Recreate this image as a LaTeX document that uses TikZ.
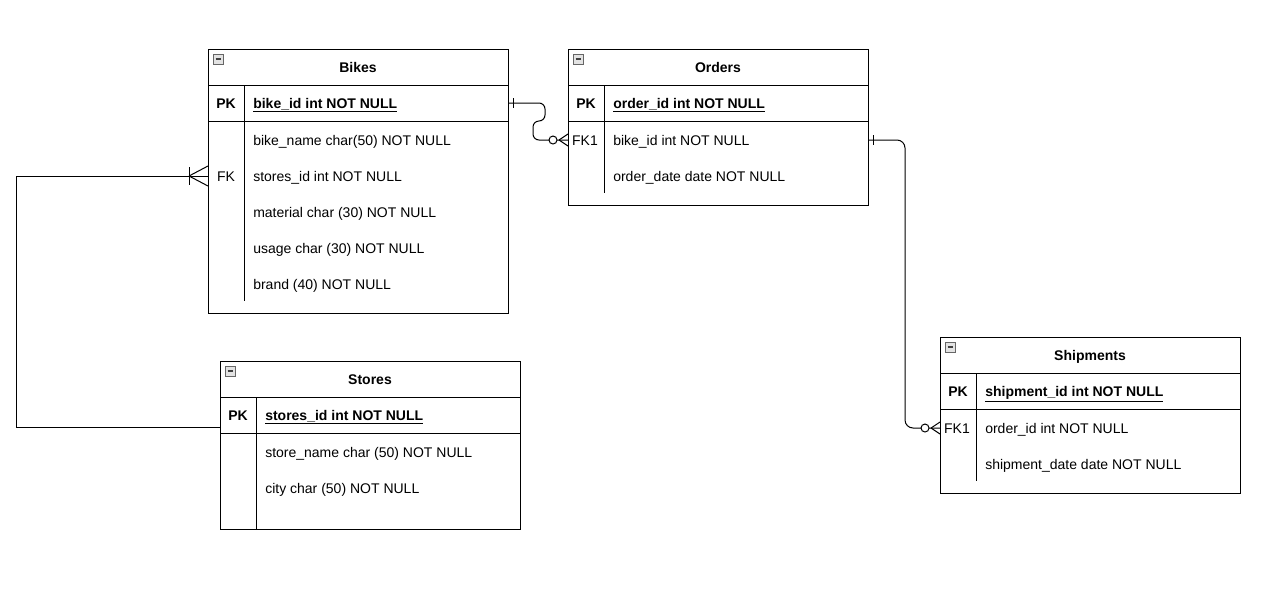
\documentclass[tikz,border=0pt]{standalone}
\usepackage{fontspec}
\setmainfont{Liberation Sans}
\usetikzlibrary{calc}
\newcommand\minicon[2]{%
  \draw[gray!80!black, fill=gray!22, line width=0.5pt] (#1,#2) rectangle ++(10,10);
  \draw[black!75, line width=1.1pt] ($(#1,#2)+(2.5,5)$) -- ++(5,0);}
\begin{document}
\begin{tikzpicture}[x=0.75pt,y=-0.75pt,
  line/.style={draw=black, line width=0.75pt},
  tbl/.style={draw=black, line width=0.75pt, minimum width=225pt, inner sep=0pt, anchor=north west},
  txt/.style={inner sep=0pt, text height=9.5pt, text depth=2pt},
  ttl/.style={txt, font=\fontsize{10.5pt}{12pt}\selectfont\bfseries},
  keyb/.style={txt, font=\fontsize{10.5pt}{12pt}\selectfont\bfseries},
  keyn/.style={txt, font=\fontsize{10.5pt}{12pt}\selectfont},
  fld/.style={txt, font=\fontsize{10.5pt}{12pt}\selectfont, anchor=west},
  pkf/.style={txt, font=\fontsize{10.5pt}{12pt}\selectfont\bfseries, anchor=west},
  conn/.style={draw=black, line width=0.75pt},
]
\fill[white] (0,0) rectangle (1274,601);
\useasboundingbox (0,0) rectangle (1274,601);

% ---------- Bikes ----------
\node[tbl, minimum height=198pt] (bikes) at (208,49) {};
\minicon{213}{54}
\draw[line] (208,85) -- (508,85);
\draw[line] (208,121) -- (508,121);
\draw[line] (244,85) -- (244,301);
\node[ttl] (bT) at (358,67) {Bikes};
\node[keyb] (bPKk) at (226,103) {PK};
\node[pkf] (bPK) at (253,103) {\underline{bike\_id int NOT NULL}};
\node[fld] (bF1) at (253,140) {bike\_name char(50) NOT NULL};
\node[keyn] (bFKk) at (226,176) {FK};
\node[fld] (bFK) at (253,176) {stores\_id int NOT NULL};
\node[fld] (bF3) at (253,212) {material char (30) NOT NULL};
\node[fld] (bF4) at (253,248) {usage char (30) NOT NULL};
\node[fld] (bF5) at (253,284) {brand (40) NOT NULL};

% ---------- Orders ----------
\node[tbl, minimum height=117pt] (orders) at (568,49) {};
\minicon{573}{54}
\draw[line] (568,85) -- (868,85);
\draw[line] (568,121) -- (868,121);
\draw[line] (604,85) -- (604,193);
\node[ttl] (oT) at (718,67) {Orders};
\node[keyb] (oPKk) at (586,103) {PK};
\node[pkf] (oPK) at (613,103) {\underline{order\_id int NOT NULL}};
\node[keyn] (oFKk) at (585,140) {FK1};
\node[fld] (oFK) at (613,140) {bike\_id int NOT NULL};
\node[fld] (oF2) at (613,176) {order\_date date NOT NULL};

% ---------- Stores ----------
\node[tbl, minimum height=126pt] (stores) at (220,361) {};
\minicon{225}{366}
\draw[line] (220,397) -- (520,397);
\draw[line] (220,433) -- (520,433);
\draw[line] (256,397) -- (256,529);
\node[ttl] (sT) at (370,379) {Stores};
\node[keyb] (sPKk) at (238,415) {PK};
\node[pkf] (sPK) at (265,415) {\underline{stores\_id int NOT NULL}};
\node[fld] (sF1) at (265,452) {store\_name char (50) NOT NULL};
\node[fld] (sF2) at (265,488) {city char (50) NOT NULL};

% ---------- Shipments ----------
\node[tbl, minimum height=117pt] (ship) at (940,337) {};
\minicon{945}{342}
\draw[line] (940,373) -- (1240,373);
\draw[line] (940,409) -- (1240,409);
\draw[line] (976,373) -- (976,481);
\node[ttl] (hT) at (1090,355) {Shipments};
\node[keyb] (hPKk) at (958,391) {PK};
\node[pkf] (hPK) at (985,391) {\underline{shipment\_id int NOT NULL}};
\node[keyn] (hFKk) at (957,428) {FK1};
\node[fld] (hFK) at (985,428) {order\_id int NOT NULL};
\node[fld] (hF2) at (985,464) {shipment\_date date NOT NULL};

% ---------- Connector: Bikes.bike_id -> Orders.bike_id ----------
\draw[conn, rounded corners=4.5pt] (bikes.east |- bPK) -- ++(36,0) -- ++(0,18) -- ++(-12,0) |- (orders.west |- oFK);
\draw[line] ($(bikes.east |- bPK)+(4,-5)$) -- ++(0,10);
\draw[line, fill=white] ($(orders.west |- oFK)+(-15,0)$) circle (3pt);
\draw[line] ($(orders.west |- oFK)+(-9,0)$) -- ++(9,-6);
\draw[line] ($(orders.west |- oFK)+(-9,0)$) -- ++(9,6);

% ---------- Connector: Orders.bike_id -> Shipments.order_id ----------
\draw[conn, rounded corners=6pt] (orders.east |- oFK) -- ++(36,0) |- (ship.west |- hFK);
\draw[line] ($(orders.east |- oFK)+(4,-5)$) -- ++(0,10);
\draw[line, fill=white] ($(ship.west |- hFK)+(-15,0)$) circle (3pt);
\draw[line] ($(ship.west |- hFK)+(-9,0)$) -- ++(9,-6);
\draw[line] ($(ship.west |- hFK)+(-9,0)$) -- ++(9,6);

% ---------- Connector: Stores.stores_id -> Bikes.stores_id ----------
\draw[conn] ($(stores.west |- sPK)+(0,12)$) -- ++(-204,0) |- (bikes.west |- bFK);
\draw[line] ($(bikes.west |- bFK)+(-19,-9)$) -- ++(0,18);
\draw[line] ($(bikes.west |- bFK)+(-19,0)$) -- ++(19,-10);
\draw[line] ($(bikes.west |- bFK)+(-19,0)$) -- ++(19,10);
\end{tikzpicture}
\end{document}
